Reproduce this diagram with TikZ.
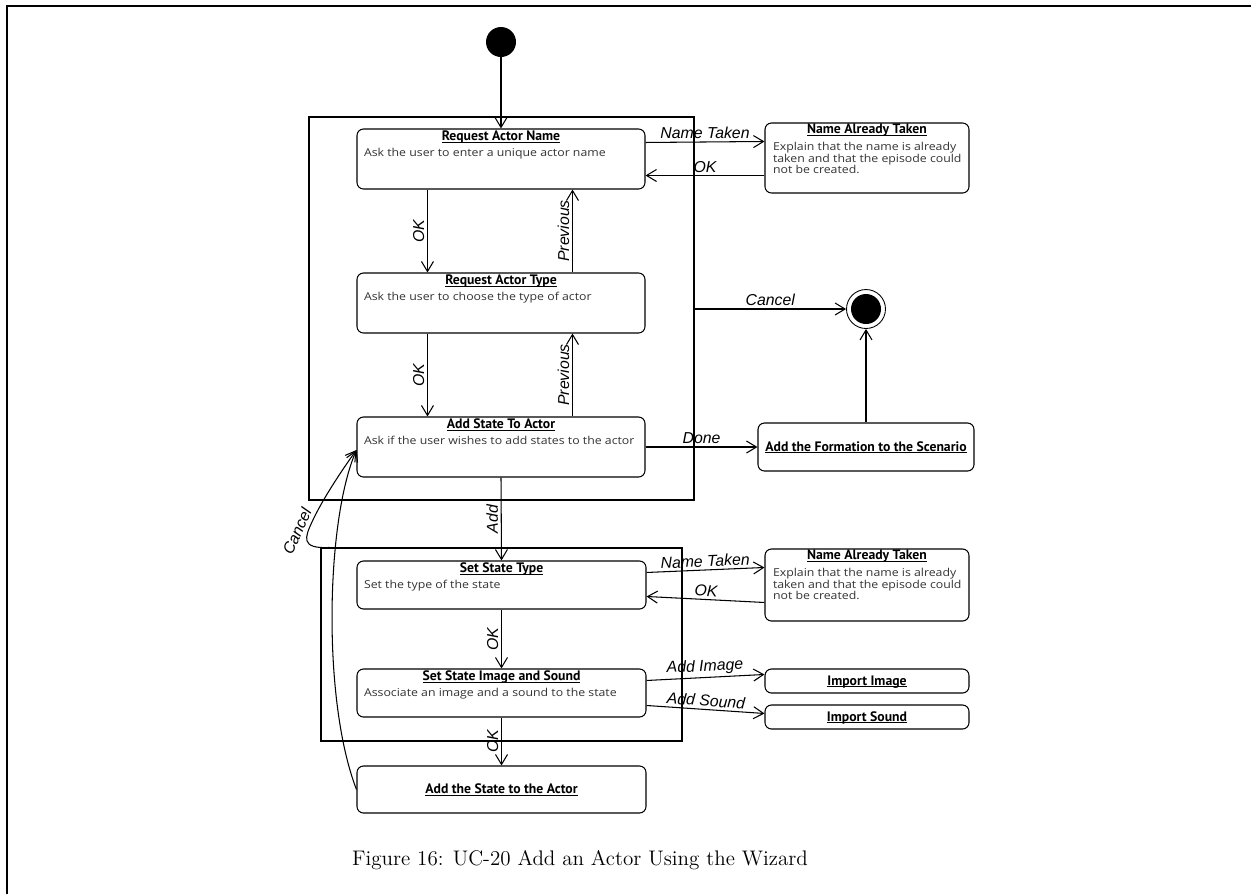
\documentclass[tikz,border=0pt]{standalone}
\usepackage{fontspec}
\newfontfamily\titlefont{PT Sans}
\newfontfamily\descfont[FakeStretch=1.13]{Open Sans}
\newfontfamily\lblfont{Liberation Sans}
\usetikzlibrary{arrows.meta,fit,calc}

% underlined state title with the rule set close to the baseline
\newsavebox\ulbox
\newcommand\ultitle[1]{\sbox\ulbox{#1}\rlap{\rule[-1pt]{\wd\ulbox}{0.4pt}}\usebox\ulbox}

\begin{document}
\begin{tikzpicture}[x=0.02cm,y=-0.02cm,
  line width=0.6pt,
  arr/.style={-{Straight Barb[length=2mm,width=2.4mm]}},
  statebox/.style={draw, rounded corners=1.3mm, inner sep=0pt},
  region/.style={draw, inner sep=0pt},
  ttl/.style={font=\titlefont\fontsize{7.8}{8}\selectfont\bfseries, inner sep=0pt, anchor=base},
  desc/.style={font=\descfont\fontsize{6.2}{6.6}\selectfont, text=black!80, inner sep=0pt, anchor=base west},
  lbl/.style={font=\lblfont\itshape\fontsize{9}{10}\selectfont, inner sep=1.5pt},
]
\useasboundingbox (0,0) rectangle (1251,894);
% page frame
\draw[line width=1.1pt] (7,894) -- (7,6) -- (1251,6);

% pseudo states
\fill (501,42) circle (15) coordinate (init);
\node[circle, draw, line width=0.5pt, minimum size=0.78cm, inner sep=0pt] (fin) at (866,309) {};
\fill (fin) circle (15);

% composite regions
\node[region, fit={(309,117) (694,500)}] (comp1) {};
\node[region, fit={(321,548) (682,741)}] (comp2) {};

% states of the first region
\node[statebox, fill=white, fit={(357,129) (645,189)}] (ran) {};
\node[ttl] at ($(ran.north)+(0,12)$) {\ultitle{Request Actor Name}};
\node[desc] at ($(ran.north west)+(7,28)$) {Ask the user to enter a unique actor name};

\node[statebox, fit={(357,273) (645,333)}] (rat) {};
\node[ttl] at ($(rat.north)+(0,12)$) {\ultitle{Request Actor Type}};
\node[desc] at ($(rat.north west)+(7,28)$) {Ask the user to choose the type of actor};

\node[statebox, fit={(357,417) (645,477)}] (asta) {};
\node[ttl] at ($(asta.north)+(0,12)$) {\ultitle{Add State To Actor}};
\node[desc] at ($(asta.north west)+(7,28)$) {Ask if the user wishes to add states to the actor};

\node[statebox, fit={(765,123) (969,193)}] (nat1) {};
\node[ttl] at ($(nat1.north)+(0,11)$) {\ultitle{Name Already Taken}};
\node[desc] at ($(nat1.north west)+(8,28)$) {\vtop{\hbox{Explain that the name is already}\hbox{taken and that the episode could}\hbox{not be created.}}};

\node[statebox, fit={(758,423) (974,471)}] (form) {};
\node[ttl] at ($(form.center)+(0,4)$) {\ultitle{Add the Formation to the Scenario}};

% states of the second region
\node[statebox, fit={(357,561) (646,609)}] (sst) {};
\node[ttl] at ($(sst.north)+(0,12)$) {\ultitle{Set State Type}};
\node[desc] at ($(sst.north west)+(7,28)$) {Set the type of the state};

\node[statebox, fit={(357,669) (646,717)}] (ssis) {};
\node[ttl] at ($(ssis.north)+(0,12)$) {\ultitle{Set State Image and Sound}};
\node[desc] at ($(ssis.north west)+(7,28)$) {Associate an image and a sound to the state};

\node[statebox, fit={(765,549) (969,621)}] (nat2) {};
\node[ttl] at ($(nat2.north)+(0,11)$) {\ultitle{Name Already Taken}};
\node[desc] at ($(nat2.north west)+(8,28)$) {\vtop{\hbox{Explain that the name is already}\hbox{taken and that the episode could}\hbox{not be created.}}};

\node[statebox, fit={(765,669) (969,693)}] (impimg) {};
\node[ttl] at ($(impimg.center)+(0,4)$) {\ultitle{Import Image}};

\node[statebox, fit={(765,705) (969,729)}] (impsnd) {};
\node[ttl] at ($(impsnd.center)+(0,4)$) {\ultitle{Import Sound}};

\node[statebox, fit={(357,766) (646,813)}] (asa) {};
\node[ttl] at ($(asa.center)+(0,4)$) {\ultitle{Add the State to the Actor}};

% transitions
\draw[arr] (init) -- (ran.north);
\draw[arr] ($(ran.north east)+(0,14)$) -- ($(nat1.north west)+(0,19)$)
  node[lbl, midway, above] {Name Taken};
\draw[arr] ($(nat1.north west)+(0,53)$) -- ($(ran.north east)+(0,47)$)
  node[lbl, midway, above] {OK};
\draw[arr] ($(ran.south west)+(71,0)$) -- ($(rat.north west)+(71,0)$)
  node[lbl, midway, rotate=90, anchor=south] {OK};
\draw[arr] ($(rat.north west)+(216,0)$) -- ($(ran.south west)+(216,0)$)
  node[lbl, midway, rotate=90, anchor=south] {Previous};
\draw[arr] ($(rat.south west)+(71,0)$) -- ($(asta.north west)+(71,0)$)
  node[lbl, midway, rotate=90, anchor=south] {OK};
\draw[arr] ($(asta.north west)+(216,0)$) -- ($(rat.south west)+(216,0)$)
  node[lbl, midway, rotate=90, anchor=south] {Previous};
\draw[arr] (comp1.east |- fin.west) -- (fin.west)
  node[lbl, midway, above] {Cancel};
\draw[arr] (asta.east) -- (form.west)
  node[lbl, midway, above] {Done};
\draw[arr] (form.north) -- (fin.south);
\draw[arr] (asta.south) -- (sst.north)
  node[lbl, midway, rotate=90, anchor=south] {Add};
\draw[arr] ($(sst.north east)+(0,12)$) -- ($(nat2.north west)+(0,19)$)
  node[lbl, midway, above, sloped] {Name Taken};
\draw[arr] ($(nat2.north west)+(0,54)$) -- ($(sst.north east)+(0,36)$)
  node[lbl, midway, above, sloped] {OK};
\draw[arr] (sst.south) -- (ssis.north)
  node[lbl, midway, rotate=90, anchor=south] {OK};
\draw[arr] ($(ssis.north east)+(0,12)$) -- ($(impimg.north west)+(0,6)$)
  node[lbl, midway, above, sloped] {Add Image};
\draw[arr] ($(ssis.north east)+(0,37)$) -- ($(impsnd.north west)+(0,9)$)
  node[lbl, midway, above, sloped] {Add Sound};
\draw[arr] (ssis.south) -- (asa.north)
  node[lbl, midway, rotate=90, anchor=south] {OK};
\draw[arr] (asa.west) .. controls (322,700) and (326,520) .. ($(asta.west)+(0,3)$);
\draw[arr] ($(comp2.north west)+(9,0)$) .. controls (300,549) and (305,537) .. (312,522)
  node[lbl, pos=1, shift={(-15,9)}, rotate=66] {Cancel}
  .. controls (322,500) and (342,470) .. ($(asta.west)+(0,3)$);

% caption
\node[font=\fontsize{12}{14}\selectfont] (cap) at (580,860) {Figure 16: UC-20 Add an Actor Using the Wizard};
\end{tikzpicture}
\end{document}
